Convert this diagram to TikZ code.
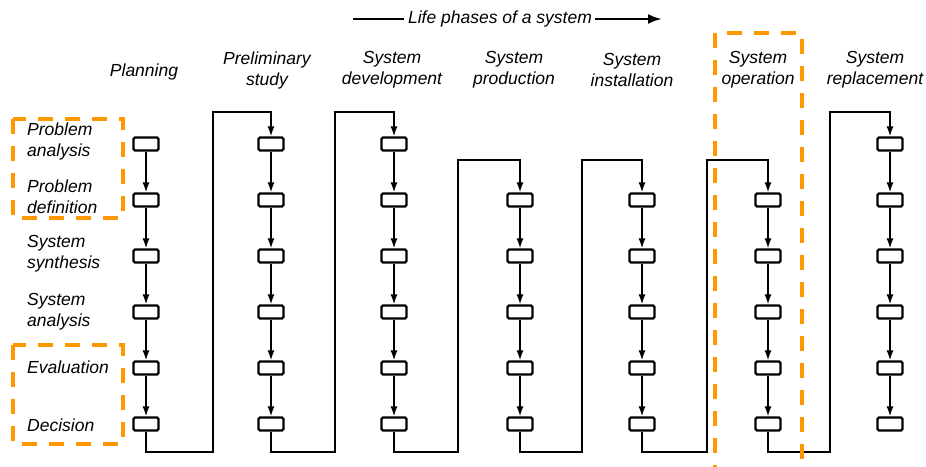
\documentclass[tikz,border=0pt]{standalone}
\usepackage{fontspec}
\setmainfont{Liberation Sans}
\usetikzlibrary{arrows.meta}
\definecolor{hlorange}{RGB}{255,152,0}
\begin{document}
\begin{tikzpicture}[x=1pt,y=-1pt,
  blk/.style={draw, line width=2.2pt, rounded corners=1.5pt, minimum width=25pt, minimum height=13pt, inner sep=0pt},
  txt/.style={font=\fontsize{17.5}{21}\selectfont\itshape, inner sep=0pt},
  hdr/.style={txt, align=center},
  llbl/.style={txt, align=left, anchor=west},
  flow/.style={line width=1.6pt, -{Latex[length=10pt,width=7pt]}},
  wire/.style={line width=2.6pt},
  hl/.style={draw=hlorange, line width=3.2pt, dash pattern=on 15pt off 12pt}
]
\useasboundingbox (0,0) rectangle (926,466);
\clip (0,0) rectangle (926,466);

% title
\node[txt] (title) at (500,19) {Life phases of a system};
\coordinate (tl) at (353,19);
\coordinate (tr) at (662,19);
\draw[wire] (tl) -- ([xshift=-4pt]title.west);
\draw[wire, -{Latex[length=14pt,width=10pt]}] ([xshift=3pt]title.east) -- (tr);

% column headers
\node[hdr] (h1) at (144,72) {Planning};
\node[hdr] (h2) at (267,70) {Preliminary\\study};
\node[hdr] (h3) at (392,70) {System\\development};
\node[hdr] (h4) at (514,70) {System\\production};
\node[hdr] (h5) at (632,70) {System\\installation};
\node[hdr] (h6) at (758,70) {System\\operation};
\node[hdr] (h7) at (875,70) {System\\replacement};

% row labels
\node[llbl] (l1) at (27,141.5) {Problem\\analysis};
\node[llbl] (l2) at (27,197) {Problem\\definition};
\node[llbl] (l3) at (27,253.5) {System\\synthesis};
\node[llbl] (l4) at (27,312) {System\\analysis};
\node[llbl] (l5) at (27,367) {Evaluation};
\node[llbl] (l6) at (27,425) {Decision};

% boxes and in-column arrows
\foreach \c/\x/\s in {1/146/1,2/271/1,3/394/1,4/520/2,5/642/2,6/768/2,7/890/1} {
  \foreach \r in {\s,...,6} {
    \node[blk] (b\c-\r) at (\x,{88+56*\r}) {};
  }
  \foreach \r [evaluate=\r as \n using int(\r+1)] in {\s,...,5} {
    \draw[flow] (b\c-\r) -- (b\c-\n);
  }
}

% connectors between columns
\foreach \a/\b/\fx/\ty/\tr in {1/2/213/112/1, 2/3/335/112/1, 3/4/458/160/2, 4/5/582/160/2, 5/6/707/160/2, 6/7/830/112/1} {
  \coordinate (fb\a) at (\fx,452);
  \coordinate (ft\a) at (\fx,\ty);
  \draw[flow] (b\a-6.south) |- (fb\a) -- (ft\a) -| (b\b-\tr.north);
}

% orange highlights
\draw[hl] (13,119) rectangle (123,218);
\draw[hl] (13,345) rectangle (123,444);
\draw[hl] (715,480) -- (715,33) -- (802,33) -- (802,480);
\end{tikzpicture}
\end{document}
